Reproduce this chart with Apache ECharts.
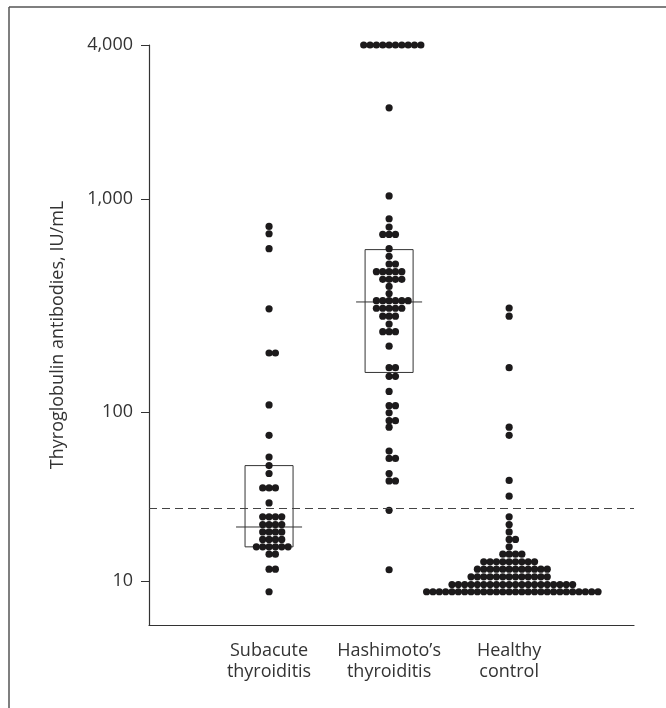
<!DOCTYPE html>
<html>
<head>
<meta charset="utf-8">
<script src="https://cdn.jsdelivr.net/npm/echarts@6/dist/echarts.min.js"></script>
<style>
html,body{margin:0;padding:0;background:#fff;}
#chart{width:666px;height:708px;}
</style>
</head>
<body>
<div id="chart"></div>
<script>
// ---- data (IU/mL) ----
const categories = ['Subacute\nthyroiditis', "Hashimoto\u2019s\nthyroiditis", 'Healthy\ncontrol'];
const yTickValues = [10, 100, 1000, 4000];
const yTickLabels = ['10', '100', '1,000', '4,000'];
const cutoff = 28;

const subacuteValues = [765, 711, 612, 326, 200, 200, 109, 75, 57, 51, 46, 38, 38, 38, 31,
  25.6, 25.6, 25.6, 25.6, 23, 23, 23, 23, 20.7, 20.7, 20.7, 20.7, 18.6, 18.6, 18.6, 18.6,
  16.7, 16.7, 16.7, 16.7, 16.7, 16.7, 15, 15, 12, 12, 8.5];

const hashimotoValues = [4000, 4000, 4000, 4000, 4000, 4000, 4000, 4000, 4000, 4000,
  2325, 1030, 825, 760, 706, 706, 706, 612, 566, 523, 523, 483, 483, 483, 483, 483,
  446, 446, 446, 446, 414, 384, 356, 356, 356, 356, 356, 356, 328, 328, 328, 328, 328,
  301, 301, 301, 276, 254, 254, 254, 216, 169, 169, 153, 153, 128, 108, 108, 99, 90, 90,
  83, 61.5, 56, 56, 46, 41.7, 41.7, 28, 11.9];

const healthyValues = [329, 301, 169, 83, 75, 42, 34, 25.6, 23, 20.7, 18.6, 18.6, 16.7,
  15, 15, 15, 15,
  13.4, 13.4, 13.4, 13.4, 13.4, 13.4, 13.4, 13.4, 13.4,
  12, 12, 12, 12, 12, 12, 12, 12, 12, 12, 12, 12,
  10.7, 10.7, 10.7, 10.7, 10.7, 10.7, 10.7, 10.7, 10.7, 10.7, 10.7, 10.7, 10.7,
  9.5, 9.5, 9.5, 9.5, 9.5, 9.5, 9.5, 9.5, 9.5, 9.5, 9.5, 9.5, 9.5, 9.5, 9.5, 9.5, 9.5, 9.5, 9.5, 9.5,
  8.5, 8.5, 8.5, 8.5, 8.5, 8.5, 8.5, 8.5, 8.5, 8.5, 8.5, 8.5, 8.5, 8.5,
  8.5, 8.5, 8.5, 8.5, 8.5, 8.5, 8.5, 8.5, 8.5, 8.5, 8.5, 8.5, 8.5, 8.5];

// box summaries: [lower, median, upper]
const subacuteBox = [16.7, 22.2, 51];
const hashimotoBox = [160, 351, 606];

// ---- scale helpers (power 0.1 axis) ----
const P = 0.1;
const tr = v => Math.pow(v, P);
const DOT_STEP = 0.0529;

function swarm(values, col) {
  const groups = new Map();
  values.forEach(v => groups.set(v, (groups.get(v) || 0) + 1));
  const out = [];
  groups.forEach((n, v) => {
    const start = -Math.floor((n - 1) / 2);
    for (let i = 0; i < n; i++) out.push([col + (start + i) * DOT_STEP, tr(v)]);
  });
  return out;
}

const dots = [].concat(
  swarm(subacuteValues, 1),
  swarm(hashimotoValues, 2),
  swarm(healthyValues, 3)
);
const boxes = [
  [1, tr(subacuteBox[0]), tr(subacuteBox[1]), tr(subacuteBox[2])],
  [2, tr(hashimotoBox[0]), tr(hashimotoBox[1]), tr(hashimotoBox[2])]
];

const FONT = 'Open Sans';
const FS = 18;
const chart = echarts.init(document.getElementById('chart'), null, {renderer: 'canvas'});
chart.setOption({
  animation: false,
  grid: {left: 149, right: 32, top: 45, bottom: 83},
  xAxis: {
    type: 'value', min: 0, max: 4.04,
    splitLine: {show: false},
    axisLine: {show: true, lineStyle: {color: '#333', width: 1.2}},
    axisTick: {show: false},
    axisLabel: {
      customValues: [1, 2, 3],
      formatter: v => categories[Math.round(v) - 1] || '',
      fontFamily: FONT, fontSize: FS, color: '#333', lineHeight: 21, margin: 15
    }
  },
  yAxis: {
    type: 'value', min: tr(5), max: tr(4000),
    name: 'Thyroglobulin antibodies, IU/mL',
    nameLocation: 'middle', nameGap: 82, nameRotate: 90,
    nameTextStyle: {fontFamily: FONT, fontSize: FS, color: '#333'},
    splitLine: {show: false},
    axisLine: {show: true, lineStyle: {color: '#333', width: 1.2}},
    axisTick: {show: true, length: 8, customValues: yTickValues.map(tr), lineStyle: {color: '#333'}},
    axisLabel: {
      customValues: yTickValues.map(tr),
      formatter: t => {
        const i = yTickValues.findIndex(v => Math.abs(tr(v) - t) < 1e-6);
        return i >= 0 ? yTickLabels[i] : '';
      },
      fontFamily: FONT, fontSize: FS, color: '#333', margin: 16
    }
  },
  series: [
    {
      type: 'custom', z: 1,
      data: boxes,
      renderItem: (params, api) => {
        const x = api.value(0), lo = api.value(1), med = api.value(2), hi = api.value(3);
        const a = api.coord([x - 0.2, hi]);
        const b = api.coord([x + 0.2, lo]);
        const m1 = api.coord([x - 0.275, med]);
        const m2 = api.coord([x + 0.275, med]);
        return {
          type: 'group',
          children: [
            {type: 'rect', shape: {x: a[0], y: a[1], width: b[0] - a[0], height: b[1] - a[1]},
              style: {fill: 'none', stroke: '#333', lineWidth: 1}},
            {type: 'line', shape: {x1: m1[0], y1: m1[1], x2: m2[0], y2: m2[1]},
              style: {stroke: '#333', lineWidth: 1}}
          ]
        };
      },
      markLine: {
        silent: true, symbol: 'none', label: {show: false},
        lineStyle: {type: [8, 5], color: '#444', width: 1.1},
        data: [{yAxis: tr(cutoff)}]
      }
    },
    {
      type: 'scatter', z: 3,
      symbol: 'circle', symbolSize: 7.2,
      itemStyle: {color: '#1c1a1b', opacity: 1},
      data: dots
    }
  ],
  graphic: [
    {type: 'line', shape: {x1: 9, y1: 7, x2: 9, y2: 708}, style: {stroke: '#555', lineWidth: 1.5}},
    {type: 'line', shape: {x1: 9, y1: 7, x2: 666, y2: 7}, style: {stroke: '#555', lineWidth: 1.5}}
  ]
});
</script>
</body>
</html>
